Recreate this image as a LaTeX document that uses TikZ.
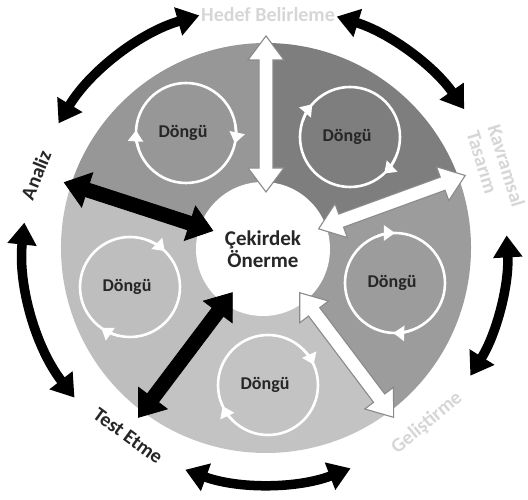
\documentclass[tikz,border=0pt]{standalone}
\usepackage{fontspec}
\setmainfont{Carlito}
\usetikzlibrary{arrows.meta}

\definecolor{secTL}{HTML}{979797}
\definecolor{secTR}{HTML}{7E7E7E}
\definecolor{secR}{HTML}{9C9C9C}
\definecolor{secB}{HTML}{C3C3C3}
\definecolor{secL}{HTML}{BEBEBE}
\definecolor{lightlbl}{HTML}{D6D6D6}
\definecolor{darklbl}{HTML}{262626}
\definecolor{ink}{HTML}{262626}
\definecolor{edge}{HTML}{8A8A8A}

\tikzset{
  % radial double arrow, drawn along the local x axis
  radarrow/.pic={
    \path[pic actions] (56,0) -- (80,18) -- (80,7) -- (188,7) -- (188,18)
      -- (212,0) -- (188,-18) -- (188,-7) -- (80,-7) -- (80,-18) -- cycle;
  },
  whitearrow/.style={fill=white, draw=edge, line width=1.1pt, line join=miter},
  blackarrow/.style={fill=black, draw=black, line width=0.8pt},
  loopring/.style={draw=white, line width=2.6pt},
  loophead/.style={draw=white, line width=2.6pt, -{Triangle[length=11pt,width=15pt]}},
  looptext/.style={font=\fontsize{18}{20}\selectfont\bfseries, text=ink, inner sep=0pt},
  lbl/.style={font=\fontsize{20}{22}\selectfont\bfseries, inner sep=0pt},
  cyc/.style={line width=9.5pt, draw=black,
    {Triangle[length=22pt,width=28pt]}-{Triangle[length=22pt,width=28pt]}},
}

\begin{document}
\begin{tikzpicture}[x=1pt,y=1pt]
\useasboundingbox (-266,-252) rectangle (262,248);

% five coloured sectors of the ring
\fill[secTR] (0,0) -- (20:205) arc[start angle=20, end angle=90, radius=205] -- cycle;
\fill[secTL] (0,0) -- (90:205) arc[start angle=90, end angle=162, radius=205] -- cycle;
\fill[secL]  (0,0) -- (162:205) arc[start angle=162, end angle=233, radius=205] -- cycle;
\fill[secB]  (0,0) -- (233:205) arc[start angle=233, end angle=307, radius=205] -- cycle;
\fill[secR]  (0,0) -- (-53:205) arc[start angle=-53, end angle=20, radius=205] -- cycle;

% cycle loops in each sector
\foreach \cx/\cy/\ha/\hb [count=\i] in
  {-80/115/177/-12, 84/111/139/-47, 129/-35/90/-92, 2/-137/24/-155, -136/-39/46/-125} {
  \begin{scope}[shift={(\cx,\cy)}]
    \draw[loopring] (0,0) circle[radius=50];
    \draw[loophead] (\ha+22:50) arc[start angle=\ha+22, end angle=\ha, radius=50];
    \draw[loophead] (\hb+22:50) arc[start angle=\hb+22, end angle=\hb, radius=50];
    \node[looptext] (loop\i) at (-3,0) {Döngü};
  \end{scope}
}

% core
\node[circle, fill=white, minimum size=134pt, inner sep=0pt, align=center,
      font=\fontsize{21}{22}\selectfont\bfseries, text=ink] (core) at (-3,-1)
      {Çekirdek\\Önerme};

% radial arrows between the core and the phases
\pic[whitearrow, rotate=90]  {radarrow};
\pic[whitearrow, rotate=20]  {radarrow};
\pic[whitearrow, rotate=-53] {radarrow};
\pic[blackarrow, rotate=-127] {radarrow};
\pic[blackarrow, rotate=162] {radarrow};

% phase labels
\node[lbl, text=lightlbl] (hedef) at (2,233) {Hedef Belirleme};
\node[lbl, text=lightlbl, rotate=-73, align=left] (kavram) at (230,79) {Kavramsal\\Tasarım};
\node[lbl, text=lightlbl, rotate=40] (gelis) at (161,-175) {Geliştirme};
\node[lbl, text=darklbl, rotate=-36] (test) at (-138,-188) {Test Etme};
\node[lbl, text=darklbl, rotate=68] (analiz) at (-230,73) {Analiz};

% outer curved double arrows between neighbouring phases
\draw[cyc] (106:242) arc[start angle=106, end angle=149, radius=242];
\draw[cyc] (73:242) arc[start angle=73, end angle=35, radius=242];
\draw[cyc] (3:241) arc[start angle=3, end angle=-32, radius=241];
\draw[cyc] (-69:236) arc[start angle=-69, end angle=-110, radius=236];
\draw[cyc] (-142:243) arc[start angle=-142, end angle=-186, radius=243];
\end{tikzpicture}
\end{document}
